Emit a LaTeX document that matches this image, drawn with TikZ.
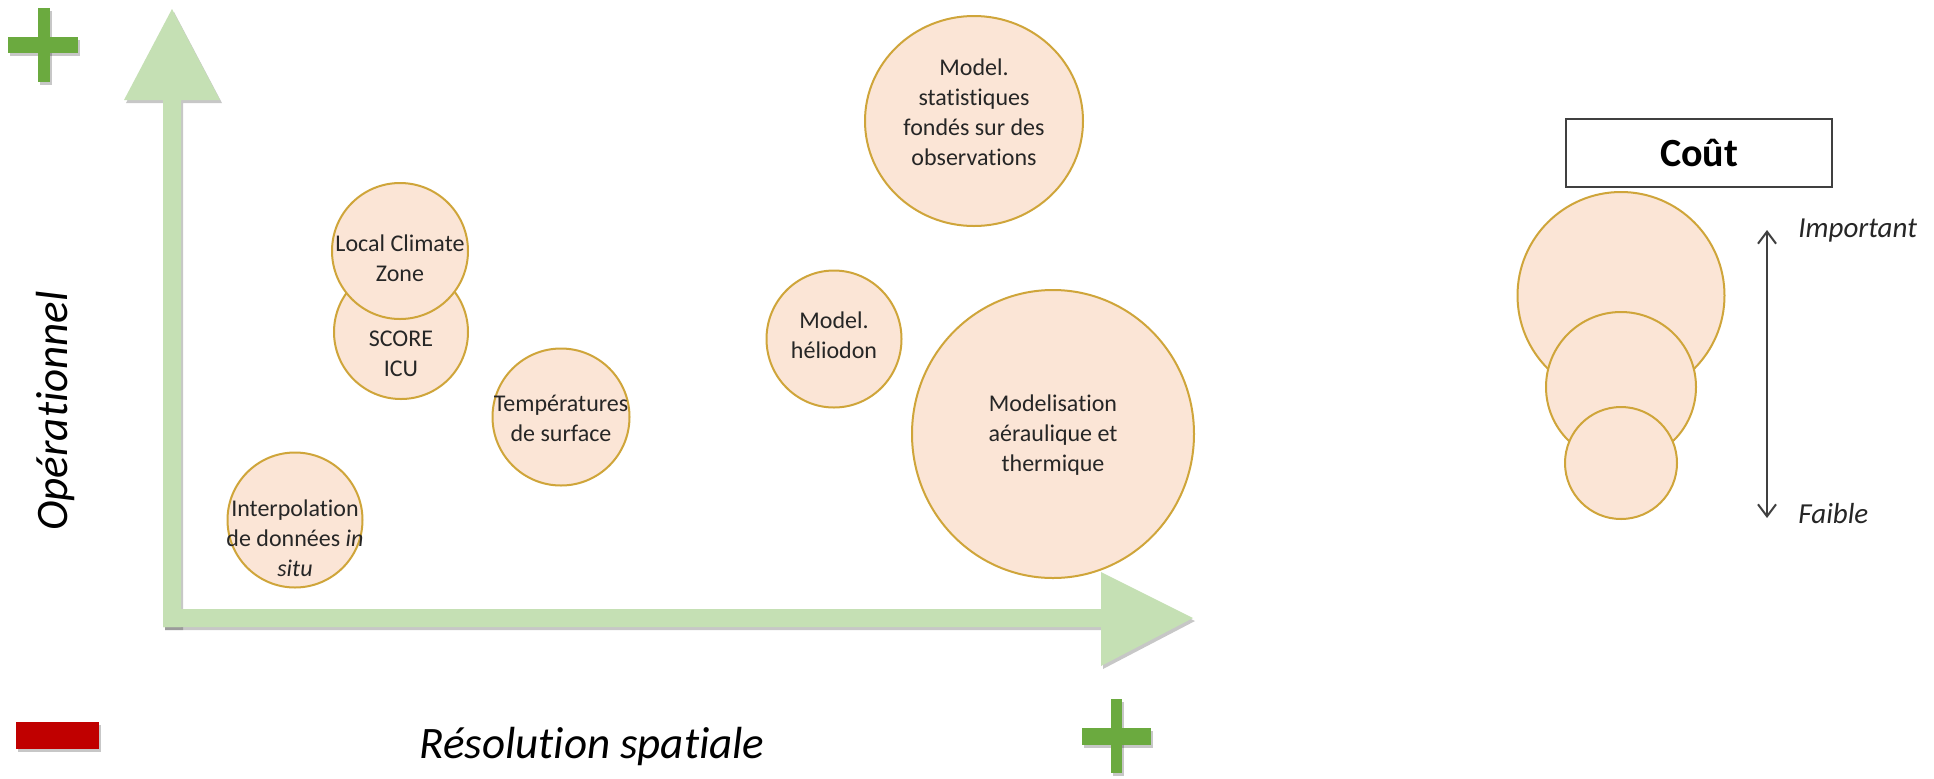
\documentclass[tikz,border=0pt]{standalone}
\usepackage{fontspec}
\setmainfont{Carlito}[Ligatures={NoCommon}]
\usetikzlibrary{shapes.geometric,arrows.meta}
\definecolor{bubblefill}{HTML}{FBE5D6}
\definecolor{bubbleedge}{HTML}{CFA53A}
\definecolor{axisgreen}{HTML}{C5E0B4}
\definecolor{plusgreen}{HTML}{6BAA3F}
\definecolor{minusred}{HTML}{C00000}
\definecolor{legendgray}{HTML}{404040}
\definecolor{textgray}{HTML}{262626}
\tikzset{
  bubble/.style={circle, draw=bubbleedge, fill=bubblefill, line width=1pt, inner sep=0pt},
  ebubble/.style={ellipse, draw=bubbleedge, fill=bubblefill, line width=1pt, inner sep=0pt},
  btext/.style={align=center, font=\fontsize{12}{15}\selectfont, text=textgray, inner sep=0pt},
  shadowfill/.style={fill=black, opacity=0.22},
  axisfill/.style={fill=axisgreen},
  plusfill/.style={fill=plusgreen},
  axislabel/.style={font=\fontsize{22.5}{27}\selectfont\itshape, text=black, inner sep=0pt, anchor=base},
  legendlabel/.style={font=\fontsize{14.5}{17}\selectfont\itshape, text=textgray, inner sep=0pt, anchor=base west},
  costbox/.style={draw=legendgray, line width=1pt, fill=white, minimum width=133pt, minimum height=34pt, inner sep=0pt, font=\fontsize{20}{24}\selectfont\bfseries},
  legendarrow/.style={draw=legendgray, line width=1pt, {Straight Barb[length=6pt,width=9pt]}-{Straight Barb[length=6pt,width=9pt]}}
}
\begin{document}
\begin{tikzpicture}[x=0.5pt, y=-0.5pt]
\useasboundingbox (0,0) rectangle (1934,778);
\fill[white] (0,0) rectangle (1934,778);

% ---- axis arrows: shadows first
\begin{scope}[shift={(2,3)}]
  \fill[shadowfill] (163,627) -- (163,100) -- (124,100) -- (172,9) -- (220,100) -- (181,100) -- (181,627) -- cycle;
  \fill[shadowfill] (163,609) -- (1101,609) -- (1101,572) -- (1193,618) -- (1101,666) -- (1101,627) -- (163,627) -- cycle;
\end{scope}
\fill[axisfill] (163,609) -- (1101,609) -- (1101,572) -- (1193,618) -- (1101,666) -- (1101,627) -- (163,627) -- cycle;
\fill[axisfill] (163,627) -- (163,100) -- (124,100) -- (172,9) -- (220,100) -- (181,100) -- (181,627) -- cycle;

% ---- plus / minus signs
\begin{scope}[shift={(2,3)}]
  \fill[shadowfill] (8,37) rectangle (78,53);
  \fill[shadowfill] (38,8) rectangle (50,82);
  \fill[shadowfill] (1082,728) rectangle (1151,745);
  \fill[shadowfill] (1111,699) rectangle (1122,773);
  \fill[shadowfill] (16,722) rectangle (99,749);
\end{scope}
\fill[plusfill] (8,37) rectangle (78,53);
\fill[plusfill] (38,8) rectangle (50,82);
\fill[plusfill] (1082,728) rectangle (1151,745);
\fill[plusfill] (1111,699) rectangle (1122,773);
\fill[minusred] (16,722) rectangle (99,749);

% ---- axis labels
\node[axislabel, rotate=90] (ylab) at (68,411) {Opérationnel};
\node[axislabel] (xlab) at (592,758) {Résolution spatiale};

% ---- bubbles
\node[bubble, minimum size=67pt] (score) at (401,332) {};
\node[bubble, minimum size=68pt] (lcz) at (400,251) {};
\node[bubble, minimum size=68.5pt] (temp) at (561,417) {};
\node[bubble, minimum size=67.5pt] (interp) at (295,520) {};
\node[ebubble, minimum width=109pt, minimum height=105pt] (stat) at (974,121) {};
\node[ebubble, minimum width=67.5pt, minimum height=68.5pt] (helio) at (834,339) {};
\node[ebubble, minimum width=141pt, minimum height=144pt] (model) at (1053,434) {};

\node[btext] (lcz-t) at (400,258) {Local Climate\\Zone};
\node[btext] (score-t) at (401,354) {SCORE\\ICU};
\node[btext] (temp-t) at (561,418) {Températures\\de surface};
\node[btext] (interp-t) at (295,538) {Interpolation\\de données \textit{in}\\\textit{situ}};
\node[btext] (stat-t) at (974,112) {Model.\\statistiques\\fondés sur des\\observations};
\node[btext] (helio-t) at (834,335) {Model.\\héliodon};
\node[btext] (model-t) at (1053,435) {Modelisation\\aéraulique et\\thermique};

% ---- legend
\node[costbox] (cout) at (1699,153) {Coût};
\node[bubble, minimum size=103.5pt] (big) at (1621,295.5) {};
\node[bubble, minimum size=75pt] (mid) at (1621,387) {};
\node[bubble, minimum size=56pt] (small) at (1621,463) {};
\coordinate (arrtop) at (1767,230);
\coordinate (arrbot) at (1767,518);
\draw[legendarrow] (arrtop) -- (arrbot);
\node[legendlabel] (imp) at (1798,237) {Important};
\node[legendlabel] (faible) at (1798,523) {Faible};
\end{tikzpicture}
\end{document}
